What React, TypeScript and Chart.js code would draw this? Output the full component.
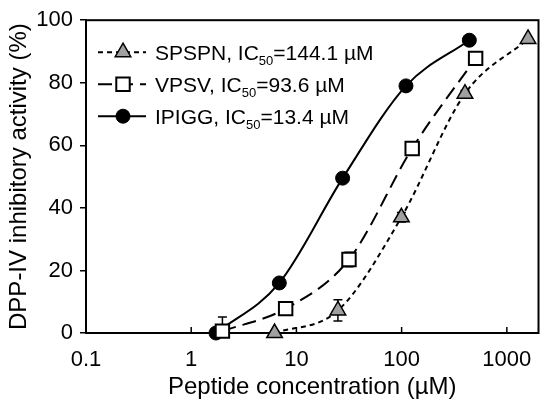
import { useEffect, useRef } from "react";
import { Chart, registerables, type Plugin } from "chart.js";
import { drawPoint } from "chart.js/helpers";

Chart.register(...registerables);

const FONT = "'Liberation Sans', Arial, sans-serif";
Chart.defaults.font.family = FONT;
Chart.defaults.color = "#000";

// Legend text
const seriesNames = ["SPSPN", "VPSV", "IPIGG"];
const ic50Values = ["144.1", "93.6", "13.4"];

// Peptide concentration (µM) / DPP-IV inhibition (%) / error (±%)
const spspnConc = [6.2, 24.8, 99.5, 400, 1590];
const spspnAct = [0, 7.2, 37.0, 76.5, 94.0];
const spspnErr = [0.5, 3.4, 1.5, 1.0, 0.5];

const vpsvConc = [1.98, 7.9, 31.6, 126, 505];
const vpsvAct = [0.6, 7.8, 23.5, 59.0, 87.8];
const vpsvErr = [4.5, 0.8, 2.3, 1.0, 0.8];

const ipiggConc = [1.72, 6.88, 27.5, 110, 440];
const ipiggAct = [0, 16.0, 49.5, 79.0, 93.6];
const ipiggErr = [0.5, 0.8, 1.0, 0.8, 0.5];

const xTickValues = [0.1, 1, 10, 100, 1000];
const xMin = 0.1;
const xMax = 2000;

const errorSets = [spspnErr, vpsvErr, ipiggErr];

const toPoints = (xs: number[], ys: number[]) => xs.map((x, i) => ({ x, y: ys[i] }));

// error bars, clipped to the plot box like the original
const errorBars: Plugin = {
  id: "errorBars",
  beforeDatasetsDraw(chart) {
    const { ctx, chartArea, scales } = chart;
    ctx.save();
    ctx.beginPath();
    ctx.rect(chartArea.left, chartArea.top, chartArea.width, chartArea.height);
    ctx.clip();
    ctx.strokeStyle = "#000";
    ctx.lineWidth = 1.5;
    ctx.setLineDash([]);
    chart.data.datasets.forEach((ds, di) => {
      (ds.data as { x: number; y: number }[]).forEach((p, i) => {
        const e = errorSets[di][i];
        if (!e) return;
        const px = scales.x.getPixelForValue(p.x);
        const top = scales.y.getPixelForValue(p.y + e);
        const bot = scales.y.getPixelForValue(p.y - e);
        ctx.beginPath();
        ctx.moveTo(px, top);
        ctx.lineTo(px, bot);
        ctx.moveTo(px - 4.5, top);
        ctx.lineTo(px + 4.5, top);
        ctx.moveTo(px - 4.5, bot);
        ctx.lineTo(px + 4.5, bot);
        ctx.stroke();
      });
    });
    ctx.restore();
  },
};

// box round the plot and the inward x ticks
const frame: Plugin = {
  id: "frame",
  beforeDatasetsDraw(chart) {
    const { ctx, chartArea, scales } = chart;
    ctx.save();
    ctx.strokeStyle = "#000";
    ctx.lineWidth = 2;
    ctx.strokeRect(chartArea.left, chartArea.top, chartArea.width, chartArea.height);
    ctx.lineWidth = 1.5;
    for (const v of xTickValues) {
      const px = scales.x.getPixelForValue(v);
      ctx.beginPath();
      ctx.moveTo(px, chartArea.bottom);
      ctx.lineTo(px, chartArea.bottom - 6);
      ctx.stroke();
    }
    ctx.restore();
  },
};

// legend with the subscript in IC50
const legend: Plugin = {
  id: "subLegend",
  afterDraw(chart) {
    const { ctx, chartArea } = chart;
    ctx.save();
    chart.data.datasets.forEach((ds: any, i) => {
      const cy = chartArea.top + 32 + i * 32;
      const x0 = chartArea.left + 12;
      ctx.strokeStyle = "#000";
      ctx.lineWidth = 2;
      ctx.setLineDash(ds.borderDash || []);
      ctx.beginPath();
      ctx.moveTo(x0, cy);
      ctx.lineTo(x0 + 48, cy);
      ctx.stroke();
      ctx.setLineDash([]);
      ctx.fillStyle = ds.pointBackgroundColor;
      ctx.lineWidth = ds.pointBorderWidth;
      drawPoint(ctx, { pointStyle: ds.pointStyle, radius: ds.pointRadius, borderWidth: ds.pointBorderWidth, rotation: 0 }, x0 + 25, cy);

      let tx = x0 + 57;
      const base = cy + 8;
      ctx.fillStyle = "#000";
      ctx.textBaseline = "alphabetic";
      ctx.font = `21px ${FONT}`;
      const a = `${seriesNames[i]}, IC`;
      ctx.fillText(a, tx, base);
      tx += ctx.measureText(a).width;
      ctx.font = `13px ${FONT}`;
      ctx.fillText("50", tx, base + 5);
      tx += ctx.measureText("50").width;
      ctx.font = `21px ${FONT}`;
      ctx.fillText(`=${ic50Values[i]} µM`, tx, base);
    });
    ctx.restore();
  },
};

export default function App() {
  const ref = useRef<HTMLCanvasElement>(null);

  useEffect(() => {
    document.body.style.margin = "0";
    if (!ref.current) return;
    const common = {
      borderColor: "#000",
      borderWidth: 2,
      cubicInterpolationMode: "monotone" as const,
      pointBorderColor: "#000",
      clip: false as const,
      fill: false,
    };
    const chart = new Chart(ref.current, {
      type: "line",
      data: {
        datasets: [
          {
            ...common,
            label: seriesNames[0],
            data: toPoints(spspnConc, spspnAct),
            borderDash: [5, 4],
            pointStyle: "triangle",
            pointRadius: 9,
            pointBackgroundColor: "#a0a0a0",
            pointBorderWidth: 1.5,
          },
          {
            ...common,
            label: seriesNames[1],
            data: toPoints(vpsvConc, vpsvAct),
            borderDash: [14, 7],
            pointStyle: "rect",
            pointRadius: 9.5,
            pointBackgroundColor: "#fff",
            pointBorderWidth: 2,
          },
          {
            ...common,
            label: seriesNames[2],
            data: toPoints(ipiggConc, ipiggAct),
            pointStyle: "circle",
            pointRadius: 7,
            pointBackgroundColor: "#000",
            pointBorderWidth: 1,
          },
        ],
      },
      options: {
        animation: false,
        responsive: true,
        maintainAspectRatio: false,
        layout: { padding: { left: 0, right: 9, top: 15, bottom: 0 } },
        plugins: { legend: { display: false }, tooltip: { enabled: false } },
        scales: {
          x: {
            type: "logarithmic",
            min: xMin,
            max: xMax,
            afterBuildTicks: (s: any) => {
              s.ticks = xTickValues.map((value) => ({ value }));
            },
            afterFit: (s: any) => {
              s.height = 75;
            },
            grid: { display: false },
            border: { display: true, color: "#000", width: 2 },
            ticks: {
              autoSkip: false,
              maxRotation: 0,
              padding: 6,
              font: { size: 22 },
              callback: (v: any) => String(v),
            },
            title: {
              display: true,
              text: "Peptide concentration (µM)",
              font: { size: 24 },
              padding: { top: 0, bottom: 6 },
            },
          },
          y: {
            min: 0,
            max: 100,
            afterFit: (s: any) => {
              s.width = 86;
            },
            grid: { drawOnChartArea: false, drawTicks: true, tickLength: 6, color: "#000", lineWidth: 1.5 },
            border: { display: true, color: "#000", width: 2 },
            ticks: { stepSize: 20, padding: 7, font: { size: 22 } },
            title: {
              display: true,
              text: "DPP-IV inhibitory activity (%)",
              font: { size: 24 },
              padding: { top: 5, bottom: 0 },
            },
          },
        },
      },
      plugins: [errorBars, frame, legend],
    });
    return () => chart.destroy();
  }, []);

  return (
    <div style={{ position: "relative", width: 550, height: 408 }}>
      <canvas ref={ref} />
    </div>
  );
}
